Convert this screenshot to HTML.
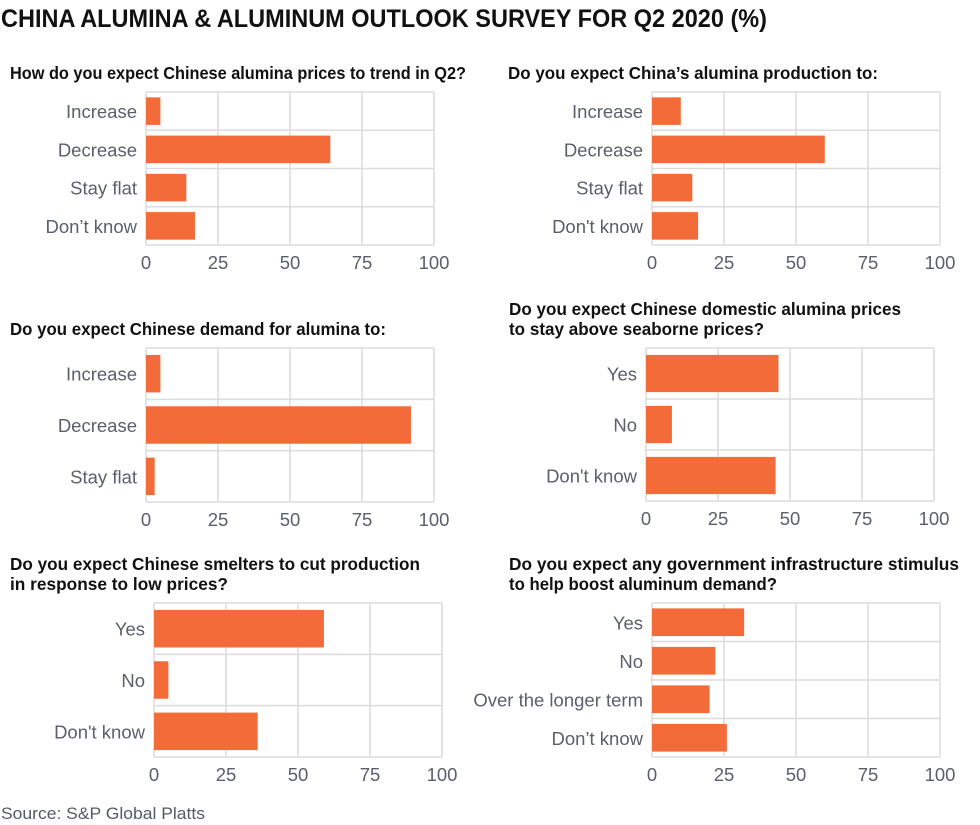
<!DOCTYPE html>
<html><head><meta charset="utf-8"><style>
body{margin:0;background:#fff;width:980px;height:825px;overflow:hidden}
svg{display:block}
</style></head><body>
<svg id="c" width="980" height="825" xmlns="http://www.w3.org/2000/svg" font-family="'Liberation Sans', sans-serif">
<text x="1" y="27" font-size="25" font-weight="bold" fill="#111" textLength="766" lengthAdjust="spacingAndGlyphs">CHINA ALUMINA &amp; ALUMINUM OUTLOOK SURVEY FOR Q2 2020 (%)</text>
<text x="1" y="819" font-size="17" fill="#555a64" textLength="204" lengthAdjust="spacingAndGlyphs">Source: S&amp;P Global Platts</text>
</svg>
<script>
const ticks=[0,25,50,75,100];
const cats1=["Increase","Decrease","Stay flat","Don’t know"];
const vals1=[5,64,14,17];
const cats2=["Increase","Decrease","Stay flat","Don't know"];
const vals2=[10,60,14,16];
const cats3=["Increase","Decrease","Stay flat"];
const vals3=[5,92,3];
const cats4=["Yes","No","Don't know"];
const vals4=[46,9,45];
const cats5=["Yes","No","Don't know"];
const vals5=[59,5,36];
const cats6=["Yes","No","Over the longer term","Don’t know"];
const vals6=[32,22,20,26];
const titles=[
 [["How do you expect Chinese alumina prices to trend in Q2?",456]],
 [["Do you expect China’s alumina production to:",370]],
 [["Do you expect Chinese demand for alumina to:",376]],
 [["Do you expect Chinese domestic alumina prices",392],["to stay above seaborne prices?",255]],
 [["Do you expect Chinese smelters to cut production",410],["in response to low prices?",218]],
 [["Do you expect any government infrastructure stimulus",450],["to help boost aluminum demand?",268]]
];
const svg=document.getElementById('c');
const NS="http://www.w3.org/2000/svg";
function mk(t,a){const e=document.createElementNS(NS,t);for(const k in a)e.setAttribute(k,a[k]);svg.appendChild(e);return e;}
const panels=[
 {cats:cats1,vals:vals1,x0:146,y0:92,y1:245,tx:10,ty:79,k:0,bf:0.72},
 {cats:cats2,vals:vals2,x0:652,y0:92,y1:245,tx:508,ty:79,k:1,bf:0.72},
 {cats:cats3,vals:vals3,x0:146,y0:348,y1:502,tx:10,ty:335,k:2,bf:0.73},
 {cats:cats4,vals:vals4,x0:646,y0:348,y1:501,tx:509,ty:315,k:3,bf:0.73},
 {cats:cats5,vals:vals5,x0:154,y0:603,y1:757,tx:10,ty:570,k:4,bf:0.73},
 {cats:cats6,vals:vals6,x0:652,y0:603,y1:757,tx:509,ty:570,k:5,bf:0.72}
];
panels.forEach((p,pi)=>{
 const W=288;
 const xs=v=>p.x0+v/100*W;
 titles[p.k].forEach((ln,i)=>{
  const t=mk('text',{x:p.tx,y:p.ty+i*20,'font-size':17.5,'font-weight':'bold',fill:'#111',textLength:ln[1],lengthAdjust:'spacingAndGlyphs'});
  
  
  t.textContent=ln[0];
 });
 const n=p.cats.length,rh=(p.y1-p.y0)/n;
 ticks.forEach(tv=>{
  const l=mk('line',{x1:xs(tv),x2:xs(tv),y1:p.y0,y2:p.y1,stroke:'#dcdcdc','stroke-width':1.5});
  
  
  const t=mk('text',{x:xs(tv),y:p.y1+24,'font-size':18.5,fill:'#5a5f6a','text-anchor':'middle'});
  
  
  t.textContent=tv;
 });
 for(let i=0;i<=n;i++){
  const l=mk('line',{x1:p.x0,x2:p.x0+W,y1:p.y0+i*rh,y2:p.y0+i*rh,stroke:'#dcdcdc','stroke-width':1.5});
  
  
 }
 p.cats.forEach((c,i)=>{
  const cy=p.y0+(i+0.5)*rh,bh=rh*p.bf;
  const r=mk('rect',{x:p.x0,y:cy-bh/2,width:xs(p.vals[i])-p.x0,height:bh,fill:'#f26b38'});
  
  
  const t=mk('text',{x:p.x0-9,y:cy+7,'font-size':18.5,fill:'#5a5f6a','text-anchor':'end'});
  
  
  t.textContent=c;
 });
});
</script>
</body></html>
